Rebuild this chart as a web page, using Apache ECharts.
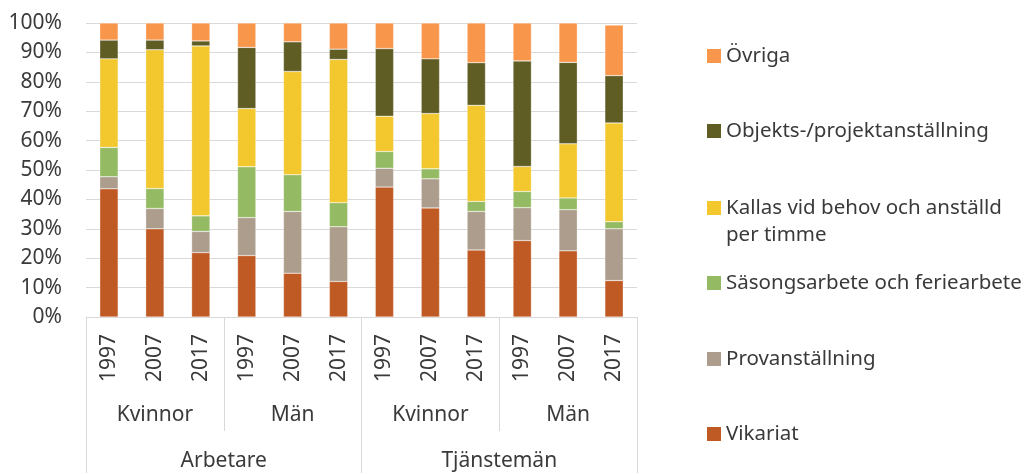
<!DOCTYPE html>
<html>
<head>
<meta charset="utf-8">
<script src="https://cdn.jsdelivr.net/npm/echarts@6/dist/echarts.min.js"></script>
<style>
html,body{margin:0;padding:0;background:#fff;}
#chart{width:1026px;height:474px;}
</style>
</head>
<body>
<div id="chart"></div>
<script>
// Categories (multi-level)
var years = ['1997','2007','2017','1997','2007','2017','1997','2007','2017','1997','2007','2017'];
var genders = ['Kvinnor','Män','Kvinnor','Män'];
var groups = ['Arbetare','Tjänstemän'];

// Series names (bottom to top in stack)
var seriesNames = ['Vikariat','Provanställning','Säsongsarbete och feriearbete','Kallas vid behov och anställd per timme','Objekts-/projektanställning','Övriga'];

// Series values (%)
var vikariat  = [43.6, 30.0, 21.9, 20.9, 14.9, 12.1, 44.2, 37.1, 22.8, 26.0, 22.5, 12.4];
var provanst  = [ 4.1,  6.9,  7.2, 12.9, 21.0, 18.6,  6.4,  9.9, 13.1, 11.2, 14.0, 17.6];
var sasong    = [10.0,  6.8,  5.3, 17.3, 12.5,  8.2,  5.7,  3.4,  3.4,  5.5,  4.0,  2.4];
var kallas    = [30.1, 47.2, 57.8, 19.8, 35.1, 48.7, 12.0, 18.8, 32.7,  8.5, 18.4, 33.6];
var objekts   = [ 6.4,  3.3,  1.7, 20.8, 10.1,  3.5, 23.0, 18.6, 14.5, 35.9, 27.7, 16.1];
var ovriga    = [ 5.8,  5.8,  6.1,  8.3,  6.4,  8.9,  8.7, 12.2, 13.5, 12.9, 13.4, 17.2];

var seriesData = [vikariat, provanst, sasong, kallas, objekts, ovriga];
var colors = ['#C05A24','#AD9D8C','#94BB63','#F3C72E','#5F5C24','#F8964C'];

var FONT = '"Noto Sans", sans-serif';
var TXT = '#3A3A3A';
var LINE = '#D9D9D9';
var AXFS = 21;
var LGFS = 20.5;

var chart = echarts.init(document.getElementById('chart'), null, {renderer:'canvas'});

var series = seriesNames.map(function(n, i){
  return {
    name: n,
    type: 'bar',
    stack: 'total',
    xAxisIndex: 0,
    yAxisIndex: 0,
    barCategoryGap: '60%',
    itemStyle: {color: colors[i], borderColor: 'rgba(255,255,255,0.6)', borderWidth: 0.5},
    data: seriesData[i]
  };
});

function legendItem(name, centerY, twoLine){
  var o = {
    data: [name],
    orient: 'vertical',
    left: 707,
    top: twoLine ? centerY - 40.5 : centerY - 13.5,
    padding: 0,
    itemWidth: 14,
    itemHeight: 14,
    itemGap: 0,
    itemStyle: {borderWidth: 0},
    icon: 'rect',
    textStyle: {fontFamily: FONT, fontSize: LGFS, color: TXT, lineHeight: 27}
  };
  if (twoLine) {
    // leading blank line keeps the icon beside the first visible line
    o.formatter = '\nKallas vid behov och anställd\nper timme';
  }
  return o;
}

var option = {
  backgroundColor: '#fff',
  animation: false,
  textStyle: {fontFamily: FONT},
  grid: {left: 86, top: 23, width: 551, height: 295, containLabel: false},
  legend: [
    legendItem(seriesNames[5], 56, false),
    legendItem(seriesNames[4], 131, false),
    legendItem(seriesNames[3], 208, true),
    legendItem(seriesNames[2], 283, false),
    legendItem(seriesNames[1], 359, false),
    legendItem(seriesNames[0], 434, false)
  ],
  xAxis: [
    {
      type: 'category',
      data: years,
      position: 'bottom',
      axisLine: {show: true, lineStyle: {color: LINE, width: 1}},
      axisTick: {show: false},
      axisLabel: {rotate: 90, interval: 0, margin: 17, fontSize: AXFS, color: TXT, fontFamily: FONT}
    },
    {
      type: 'category',
      data: genders,
      position: 'bottom',
      axisLine: {show: false},
      axisTick: {show: true, length: 114, interval: 0, lineStyle: {color: LINE, width: 1}},
      axisLabel: {interval: 0, margin: 85, fontSize: AXFS, lineHeight: 26, color: TXT, fontFamily: FONT}
    },
    {
      type: 'category',
      data: groups,
      position: 'bottom',
      axisLine: {show: false},
      axisTick: {show: true, length: 156, interval: 0, lineStyle: {color: LINE, width: 1}},
      axisLabel: {interval: 0, margin: 131, fontSize: AXFS, lineHeight: 26, color: TXT, fontFamily: FONT}
    }
  ],
  yAxis: {
    type: 'value',
    min: 0,
    max: 100,
    interval: 10,
    axisLine: {show: false},
    axisTick: {show: false},
    splitLine: {lineStyle: {color: LINE, width: 1}},
    axisLabel: {formatter: '{value}%', margin: 24, fontSize: AXFS, color: TXT, fontFamily: FONT}
  },
  series: series
};

chart.setOption(option);
</script>
</body>
</html>
